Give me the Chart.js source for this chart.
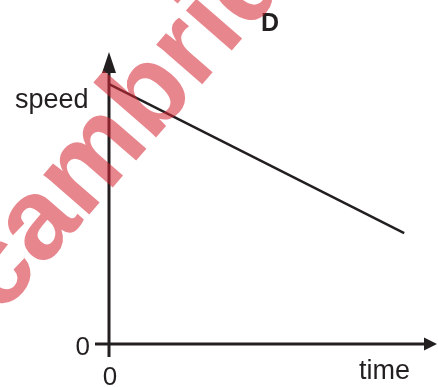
<!DOCTYPE html>
<html>
<head>
<meta charset="utf-8">
<script src="https://cdn.jsdelivr.net/npm/chart.js@4.4.0/dist/chart.umd.min.js"></script>
<style>
html,body{margin:0;padding:0;background:#fff;}
#wrap{width:438px;height:387px;position:relative;}
</style>
</head>
<body>
<div id="wrap"><canvas id="c" width="438" height="387"></canvas></div>
<script>
// Data
const timeValues = [0, 9.0];
const speedValues = [8.9, 3.8];
const xTickLabels = ['0'];
const yTickLabels = ['0'];
const panelLabel = 'D';
const xAxisTitle = 'time';
const yAxisTitle = 'speed';
const watermarkText = 'cambridge';

const ink = '#231f20';
const font = '"Liberation Sans", Arial, sans-serif';

const overlay = {
  id: 'overlay',
  afterDatasetsDraw(chart) {
    const ctx = chart.ctx;
    const xs = chart.scales.x, ys = chart.scales.y;
    const x0 = xs.getPixelForValue(0), y0 = ys.getPixelForValue(0);
    const top = chart.chartArea.top, right = chart.chartArea.right;
    ctx.save();
    ctx.strokeStyle = ink; ctx.fillStyle = ink; ctx.lineWidth = 3;
    // y axis
    ctx.beginPath(); ctx.moveTo(x0, y0 + 13); ctx.lineTo(x0, top + 14); ctx.stroke();
    ctx.beginPath(); ctx.moveTo(x0, top); ctx.lineTo(x0 - 7, top + 21); ctx.lineTo(x0 + 7, top + 21); ctx.closePath(); ctx.fill();
    // x axis
    ctx.beginPath(); ctx.moveTo(x0 - 14, y0); ctx.lineTo(right - 10, y0); ctx.stroke();
    ctx.beginPath(); ctx.moveTo(right, y0); ctx.lineTo(right - 13, y0 - 6.5); ctx.lineTo(right - 13, y0 + 6.5); ctx.closePath(); ctx.fill();
    // tick labels
    ctx.font = '26px ' + font;
    ctx.textAlign = 'right'; ctx.textBaseline = 'alphabetic';
    ctx.fillText(yTickLabels[0], x0 - 19, y0 + 11);
    ctx.textAlign = 'center';
    ctx.fillText(xTickLabels[0], x0 + 1, y0 + 41);
    // axis titles
    ctx.font = '27px ' + font;
    ctx.textAlign = 'left';
    ctx.fillText(yAxisTitle, 15, 108);
    ctx.fillText(xAxisTitle, 359, 379);
    ctx.font = 'bold 25px ' + font;
    ctx.fillText(panelLabel, 261, 31);
    // watermark
    ctx.translate(0, 317);
    ctx.rotate(-49 * Math.PI / 180);
    ctx.font = 'bold 115px ' + font;
    ctx.fillStyle = 'rgba(214,39,54,0.56)';
    ctx.textAlign = 'left';
    ctx.fillText(watermarkText, 0, 0);
    ctx.restore();
  }
};

new Chart(document.getElementById('c'), {
  type: 'line',
  data: {
    datasets: [{
      data: timeValues.map((t, i) => ({x: t, y: speedValues[i]})),
      borderColor: ink,
      borderWidth: 2.5,
      pointRadius: 0,
      fill: false,
      tension: 0
    }]
  },
  options: {
    responsive: false,
    animation: false,
    events: [],
    layout: {padding: {left: 109, right: 1, top: 52, bottom: 43}},
    plugins: {legend: {display: false}, tooltip: {enabled: false}, title: {display: false}},
    scales: {
      x: {type: 'linear', min: 0, max: 10, display: false},
      y: {type: 'linear', min: 0, max: 10, display: false}
    }
  },
  plugins: [overlay]
});
</script>
</body>
</html>
